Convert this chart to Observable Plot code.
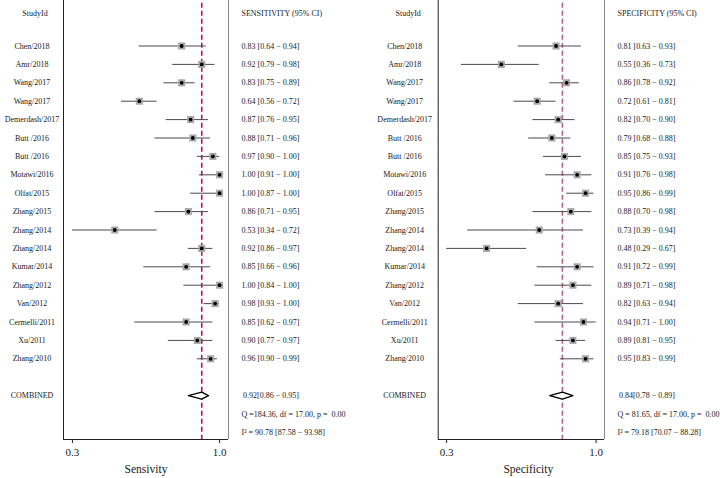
<!DOCTYPE html>
<html>
<head>
<meta charset="utf-8">
<script src="https://cdn.jsdelivr.net/npm/d3@7"></script>
<script src="https://cdn.jsdelivr.net/npm/@observablehq/plot@0.6"></script>
<style>
  html, body { margin: 0; padding: 0; background: white; }
  #chart { display: flex; width: 720px; height: 478px; overflow: hidden; }
  svg text { white-space: pre; }
</style>
</head>
<body>
<div id="chart"></div>
<script>
const studies = ["Chen/2018","Amr/2018","Wang/2017","Wang/2017","Demerdash/2017","Butt /2016","Butt /2016","Motawi/2016","Olfat/2015","Zhang/2015","Zhang/2014","Zhang/2014","Kumar/2014","Zhang/2012","Van/2012","Cermelli/2011","Xu/2011","Zhang/2010"];

const sens   = [0.83,0.92,0.83,0.64,0.87,0.88,0.97,1.00,1.00,0.86,0.53,0.92,0.85,1.00,0.98,0.85,0.90,0.96];
const sensLo = [0.64,0.79,0.75,0.56,0.76,0.71,0.90,0.91,0.87,0.71,0.34,0.86,0.66,0.84,0.93,0.62,0.77,0.90];
const sensHi = [0.94,0.98,0.89,0.72,0.95,0.96,1.00,1.00,1.00,0.95,0.72,0.97,0.96,1.00,1.00,0.97,0.97,0.99];

const spec   = [0.81,0.55,0.86,0.72,0.82,0.79,0.85,0.91,0.95,0.88,0.73,0.48,0.91,0.89,0.82,0.94,0.89,0.95];
const specLo = [0.63,0.36,0.78,0.61,0.70,0.68,0.75,0.76,0.86,0.70,0.39,0.29,0.72,0.71,0.63,0.71,0.81,0.83];
const specHi = [0.93,0.73,0.92,0.81,0.90,0.88,0.93,0.98,0.99,0.98,0.94,0.67,0.99,0.98,0.94,1.00,0.95,0.99];

const sensPooled = [0.92, 0.86, 0.95];
const specPooled = [0.84, 0.78, 0.89];
const sensHet = [184.36, 17.00, 0.00];   // Q, df, p
const specHet = [81.65, 17.00, 0.00];
const sensI2 = [90.78, 87.58, 93.98];
const specI2 = [79.18, 70.07, 88.28];

const headers = ["SENSITIVITY (95% CI)", "SPECIFICITY (95% CI)"];
const titles = ["Sensivity", "Specificity"];
const tickTop = 1.0;

const f2 = d3.format(".2f");
const f62 = d3.format("6.2f");

// layout (pixels)
const rowPx = 18.4, firstRowPx = 45.5, frameBottomPx = 439, totalH = 478;
const yDomain = [-firstRowPx / rowPx, (frameBottomPx - firstRowPx) / rowPx];

function panel(cfg) {
  const n = studies.length;
  const rows = studies.map((s, i) => ({study: s, row: i, est: cfg.est[i], lo: cfg.lo[i], hi: cfg.hi[i]}));
  const comb = n + 1, qRow = n + 2, iRow = n + 3;
  const [pe, pl, ph] = cfg.pooled;
  const minLo = d3.min(cfg.lo);
  const xDom = [minLo - 0.04, tickTop + 0.04];
  const dh = 0.19;
  const diamond = [
    {x: pl, y: comb}, {x: pe, y: comb - dh}, {x: ph, y: comb}, {x: pe, y: comb + dh}, {x: pl, y: comb}
  ];
  const [q, df, p] = cfg.het;
  const [i2, i2l, i2h] = cfg.i2;
  const combText = [{row: comb, t: `${f2(pe)}[${f2(pl)} − ${f2(ph)}]`}];
  const hetText = [
    {row: qRow, t: `Q =${f62(q)}, df = ${f2(df)}, p =  ${f2(p)}`},
    {row: iRow, t: `I² = ${f2(i2)} [${f2(i2l)} − ${f2(i2h)}]`}
  ];
  const txt = "#1a1a1a";
  return Plot.plot({
    width: 360, height: totalH,
    marginTop: 0, marginBottom: totalH - frameBottomPx,
    marginLeft: cfg.ml, marginRight: cfg.mr,
    style: {fontFamily: "'Liberation Serif', 'Times New Roman', serif", fontSize: "8px", background: "white", color: txt},
    x: {domain: xDom},
    y: {domain: yDomain, reverse: true, axis: null},
    marks: [
      Plot.ruleX([xDom[0]], {stroke: "#222", strokeWidth: 1}),
      Plot.ruleX([xDom[1]], {stroke: "#888", strokeWidth: 1}),
      Plot.ruleY([yDomain[1]], {stroke: "#222", strokeWidth: 1}),
      Plot.ruleX([pe], {stroke: cfg.refColor, strokeWidth: 1.6, strokeDasharray: "5,3", y1: yDomain[0] + 0.15, y2: yDomain[1]}),
      Plot.ruleY(rows, {y: "row", x1: "lo", x2: "hi", stroke: "#4a4a4a", strokeWidth: 1}),
      Plot.dot(rows, {x: "est", y: "row", symbol: "square", r: 4, fill: "#a8a8a8", stroke: "none"}),
      Plot.dot(rows, {x: "est", y: "row", r: 1.9, fill: "black", stroke: "none"}),
      Plot.line(diamond, {x: "x", y: "y", stroke: "black", strokeWidth: 1.3, fill: "white", curve: "linear"}),
      Plot.text(rows, {y: "row", text: "study", frameAnchor: "left", dx: cfg.labelDx, textAnchor: "middle", fill: txt}),
      Plot.text(rows, {y: "row", text: d => `${f2(d.est)} [${f2(d.lo)} − ${f2(d.hi)}]`, frameAnchor: "right", dx: 13, textAnchor: "start", fill: txt}),
      Plot.text([{row: comb, t: "COMBINED"}], {y: "row", text: "t", frameAnchor: "left", dx: cfg.labelDx, textAnchor: "middle", fill: txt}),
      Plot.text(combText, {y: "row", text: "t", frameAnchor: "right", dx: 14.5, textAnchor: "start", fill: txt}),
      Plot.text(hetText, {y: "row", text: "t", frameAnchor: "right", dx: 13, textAnchor: "start", fill: txt}),
      Plot.text(["StudyId"], {text: d => d, frameAnchor: "top-left", dx: cfg.headDx, dy: 10, textAnchor: "middle", fill: txt}),
      Plot.text([cfg.header], {text: d => d, frameAnchor: "top-right", dx: 13, dy: 10, textAnchor: "start", fill: txt}),
      Plot.text([cfg.title], {text: d => d, frameAnchor: "bottom", dx: cfg.titleDx, dy: 33, fontSize: 11.5, fill: txt}),
      Plot.axisX({ticks: [minLo, tickTop], tickFormat: ".1f", tickSize: 4, tickPadding: 5, fontSize: 11, label: null, stroke: "#222", fill: txt})
    ]
  });
}

const chart = document.getElementById("chart");
chart.append(panel({
  est: sens, lo: sensLo, hi: sensHi, pooled: sensPooled, het: sensHet, i2: sensI2,
  header: headers[0], title: titles[0], refColor: "#b5173c",
  ml: 63, mr: 132, labelDx: -31.5, headDx: -28.5, titleDx: 0
}));
chart.append(panel({
  est: spec, lo: specLo, hi: specHi, pooled: specPooled, het: specHet, i2: specI2,
  header: headers[1], title: titles[1], refColor: "#b7627e",
  ml: 77.7, mr: 116, labelDx: -33.5, headDx: -30, titleDx: 7
}));
</script>
</body>
</html>
